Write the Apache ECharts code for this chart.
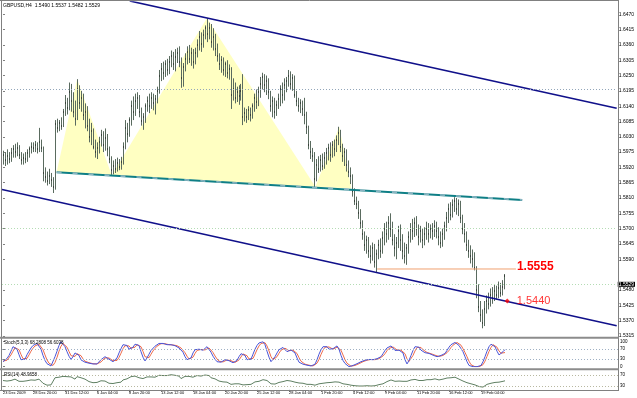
<!DOCTYPE html>
<html><head><meta charset="utf-8">
<script src="https://cdn.jsdelivr.net/npm/echarts@6/dist/echarts.min.js"></script>
<style>html,body{margin:0;padding:0;background:#fff}#c{width:637px;height:398px}</style>
</head><body><div id="c"></div>
<script>
const symbolName = 'GBPUSD,H4';
// [open, high, low, close]
const ohlc = [
[1.5950,1.5980,1.5930,1.5965],[1.5965,1.5975,1.5925,1.5945],[1.5945,1.5985,1.5930,1.5960],[1.5960,1.5975,1.5935,1.5950],[1.5950,1.5990,1.5940,1.5970],
[1.5970,1.6000,1.5955,1.5985],[1.5985,1.6005,1.5955,1.5975],[1.5975,1.6010,1.5960,1.5990],[1.5990,1.6000,1.5950,1.5965],[1.5965,1.5975,1.5930,1.5945],
[1.5945,1.5970,1.5930,1.5955],[1.5955,1.5975,1.5935,1.5950],[1.5950,1.5985,1.5940,1.5970],[1.5970,1.5995,1.5955,1.5985],[1.5985,1.6010,1.5970,1.5995],
[1.5995,1.6010,1.5975,1.5990],[1.5990,1.6015,1.5975,1.6000],[1.6000,1.6010,1.5970,1.5985],[1.5985,1.6062,1.5975,1.6010],[1.6010,1.6020,1.5975,1.5990],
[1.5990,1.5995,1.5870,1.5900],[1.5900,1.5920,1.5865,1.5885],[1.5885,1.5905,1.5855,1.5870],[1.5870,1.5915,1.5860,1.5890],[1.5890,1.5900,1.5850,1.5875],
[1.5875,1.5885,1.5828,1.5850],[1.5850,1.6090,1.5840,1.6075],[1.6075,1.6095,1.6045,1.6060],[1.6060,1.6090,1.6050,1.6080],[1.6080,1.6100,1.6055,1.6070],
[1.6070,1.6130,1.6065,1.6120],[1.6120,1.6180,1.6105,1.6150],[1.6150,1.6170,1.6110,1.6135],[1.6135,1.6225,1.6125,1.6190],[1.6190,1.6220,1.6120,1.6160],
[1.6160,1.6190,1.6100,1.6120],[1.6120,1.6160,1.6070,1.6095],[1.6095,1.6237,1.6090,1.6200],[1.6200,1.6215,1.6130,1.6150],[1.6150,1.6195,1.6120,1.6170],
[1.6170,1.6185,1.6090,1.6110],[1.6110,1.6150,1.6060,1.6120],[1.6120,1.6140,1.6050,1.6070],[1.6070,1.6095,1.6010,1.6030],[1.6030,1.6080,1.6000,1.6050],
[1.6050,1.6060,1.5985,1.5995],[1.5995,1.6020,1.5955,1.5975],[1.5975,1.6010,1.5950,1.5990],[1.5990,1.6030,1.5970,1.6010],[1.6010,1.6055,1.5995,1.6035],
[1.6035,1.6050,1.5975,1.6000],[1.6000,1.6060,1.5980,1.6025],[1.6025,1.6040,1.5960,1.5985],[1.5985,1.5995,1.5935,1.5950],[1.5950,1.5960,1.5893,1.5910],
[1.5910,1.5945,1.5895,1.5925],[1.5925,1.5950,1.5900,1.5915],[1.5915,1.5955,1.5905,1.5935],[1.5935,1.5950,1.5910,1.5920],[1.5920,1.5958,1.5912,1.5940],
[1.5940,1.6010,1.5930,1.5995],[1.5995,1.6090,1.5985,1.6060],[1.6060,1.6080,1.6010,1.6040],[1.6040,1.6100,1.6030,1.6090],[1.6090,1.6160,1.6070,1.6140],
[1.6140,1.6175,1.6090,1.6120],[1.6120,1.6185,1.6105,1.6160],[1.6160,1.6190,1.6130,1.6170],[1.6170,1.6180,1.6100,1.6120],[1.6120,1.6135,1.6070,1.6085],
[1.6085,1.6115,1.6055,1.6100],[1.6100,1.6150,1.6080,1.6140],[1.6140,1.6175,1.6120,1.6160],[1.6160,1.6185,1.6115,1.6140],[1.6140,1.6190,1.6130,1.6170],
[1.6170,1.6185,1.6125,1.6150],[1.6150,1.6180,1.6110,1.6165],[1.6165,1.6210,1.6150,1.6195],[1.6195,1.6270,1.6185,1.6250],[1.6250,1.6295,1.6230,1.6275],
[1.6275,1.6300,1.6235,1.6260],[1.6260,1.6305,1.6245,1.6290],[1.6290,1.6310,1.6250,1.6270],[1.6270,1.6320,1.6255,1.6300],[1.6300,1.6340,1.6280,1.6320],
[1.6320,1.6335,1.6270,1.6290],[1.6290,1.6345,1.6265,1.6315],[1.6315,1.6350,1.6295,1.6330],[1.6330,1.6355,1.6280,1.6300],[1.6300,1.6315,1.6206,1.6240],
[1.6240,1.6295,1.6210,1.6280],[1.6280,1.6330,1.6265,1.6310],[1.6310,1.6355,1.6290,1.6335],[1.6335,1.6360,1.6295,1.6310],[1.6310,1.6350,1.6285,1.6330],
[1.6330,1.6345,1.6275,1.6300],[1.6300,1.6350,1.6290,1.6330],[1.6330,1.6380,1.6315,1.6360],[1.6360,1.6410,1.6340,1.6390],[1.6390,1.6405,1.6335,1.6365],
[1.6365,1.6415,1.6350,1.6395],[1.6395,1.6430,1.6380,1.6420],[1.6420,1.6456,1.6370,1.6400],[1.6400,1.6440,1.6380,1.6420],[1.6420,1.6435,1.6350,1.6370],
[1.6370,1.6420,1.6340,1.6390],[1.6390,1.6400,1.6320,1.6345],[1.6345,1.6365,1.6300,1.6320],[1.6320,1.6330,1.6270,1.6290],[1.6290,1.6320,1.6260,1.6305],
[1.6305,1.6315,1.6250,1.6270],[1.6270,1.6300,1.6245,1.6290],[1.6290,1.6305,1.6240,1.6260],[1.6260,1.6290,1.6235,1.6275],[1.6275,1.6280,1.6130,1.6180],
[1.6180,1.6240,1.6160,1.6200],[1.6200,1.6225,1.6150,1.6170],[1.6170,1.6210,1.6155,1.6190],[1.6190,1.6215,1.6145,1.6175],[1.6175,1.6220,1.6160,1.6195],
[1.6195,1.6255,1.6072,1.6100],[1.6100,1.6135,1.6085,1.6115],[1.6115,1.6130,1.6080,1.6100],[1.6100,1.6140,1.6090,1.6125],[1.6125,1.6135,1.6085,1.6110],
[1.6110,1.6150,1.6095,1.6140],[1.6140,1.6185,1.6120,1.6170],[1.6170,1.6200,1.6130,1.6155],[1.6155,1.6210,1.6140,1.6190],[1.6190,1.6245,1.6170,1.6220],
[1.6220,1.6260,1.6200,1.6245],[1.6245,1.6255,1.6190,1.6215],[1.6215,1.6250,1.6180,1.6230],[1.6230,1.6240,1.6165,1.6190],[1.6190,1.6195,1.6120,1.6140],
[1.6140,1.6175,1.6100,1.6160],[1.6160,1.6170,1.6095,1.6120],[1.6120,1.6160,1.6105,1.6145],[1.6145,1.6185,1.6130,1.6165],[1.6165,1.6215,1.6140,1.6200],
[1.6200,1.6225,1.6150,1.6180],[1.6180,1.6240,1.6160,1.6215],[1.6215,1.6245,1.6190,1.6230],[1.6230,1.6270,1.6210,1.6250],[1.6250,1.6265,1.6200,1.6220],
[1.6220,1.6255,1.6195,1.6240],[1.6240,1.6250,1.6170,1.6180],[1.6180,1.6195,1.6140,1.6160],[1.6160,1.6170,1.6120,1.6140],[1.6140,1.6165,1.6115,1.6150],
[1.6150,1.6160,1.6105,1.6130],[1.6130,1.6170,1.6075,1.6110],[1.6110,1.6120,1.6040,1.6065],[1.6065,1.6070,1.5985,1.6000],[1.6000,1.6015,1.5950,1.5975],
[1.5975,1.5990,1.5940,1.5960],[1.5960,1.5975,1.5850,1.5880],[1.5880,1.5950,1.5870,1.5930],[1.5930,1.5960,1.5900,1.5915],[1.5915,1.5965,1.5905,1.5945],
[1.5945,1.5970,1.5910,1.5925],[1.5925,1.5975,1.5915,1.5955],[1.5955,1.5990,1.5930,1.5970],[1.5970,1.6005,1.5945,1.5990],[1.5990,1.6010,1.5940,1.5965],
[1.5965,1.6015,1.5955,1.6000],[1.6000,1.6020,1.5960,1.5985],[1.5985,1.6035,1.5975,1.6020],[1.6020,1.6066,1.6000,1.6045],[1.6045,1.6055,1.5975,1.5995],
[1.5995,1.6005,1.5940,1.5960],[1.5960,1.5990,1.5925,1.5975],[1.5975,1.5985,1.5905,1.5930],[1.5930,1.5945,1.5885,1.5905],[1.5905,1.5920,1.5860,1.5890],
[1.5890,1.5895,1.5815,1.5835],[1.5835,1.5845,1.5785,1.5800],[1.5800,1.5815,1.5770,1.5790],[1.5790,1.5800,1.5735,1.5755],[1.5755,1.5770,1.5700,1.5720],
[1.5720,1.5730,1.5660,1.5680],[1.5680,1.5690,1.5620,1.5640],[1.5640,1.5675,1.5610,1.5660],[1.5660,1.5670,1.5595,1.5620],[1.5620,1.5640,1.5575,1.5600],
[1.5600,1.5650,1.5585,1.5630],[1.5630,1.5645,1.5560,1.5580],[1.5580,1.5625,1.5542,1.5610],[1.5610,1.5660,1.5590,1.5640],[1.5640,1.5665,1.5595,1.5620],
[1.5620,1.5690,1.5610,1.5665],[1.5665,1.5720,1.5640,1.5700],[1.5700,1.5725,1.5650,1.5680],[1.5680,1.5745,1.5660,1.5720],[1.5720,1.5755,1.5670,1.5700],
[1.5700,1.5725,1.5640,1.5660],[1.5660,1.5680,1.5600,1.5630],[1.5630,1.5670,1.5590,1.5650],[1.5650,1.5710,1.5630,1.5690],[1.5690,1.5715,1.5620,1.5660],
[1.5660,1.5680,1.5590,1.5620],[1.5620,1.5650,1.5575,1.5600],[1.5600,1.5645,1.5570,1.5630],[1.5630,1.5690,1.5610,1.5670],[1.5670,1.5720,1.5650,1.5700],
[1.5700,1.5735,1.5660,1.5690],[1.5690,1.5740,1.5670,1.5720],[1.5720,1.5745,1.5675,1.5700],[1.5700,1.5715,1.5640,1.5670],[1.5670,1.5710,1.5650,1.5690],
[1.5690,1.5700,1.5630,1.5660],[1.5660,1.5705,1.5640,1.5680],[1.5680,1.5725,1.5660,1.5700],[1.5700,1.5720,1.5650,1.5680],[1.5680,1.5715,1.5665,1.5700],
[1.5700,1.5720,1.5660,1.5690],[1.5690,1.5730,1.5670,1.5710],[1.5710,1.5725,1.5665,1.5690],[1.5690,1.5705,1.5640,1.5670],[1.5670,1.5690,1.5630,1.5650],
[1.5650,1.5700,1.5635,1.5680],[1.5680,1.5725,1.5660,1.5710],[1.5710,1.5760,1.5690,1.5740],[1.5740,1.5790,1.5720,1.5770],[1.5770,1.5795,1.5730,1.5750],
[1.5750,1.5805,1.5740,1.5785],[1.5785,1.5813,1.5760,1.5800],[1.5800,1.5810,1.5750,1.5770],[1.5770,1.5805,1.5745,1.5790],[1.5790,1.5800,1.5720,1.5740],
[1.5740,1.5750,1.5680,1.5700],[1.5700,1.5720,1.5650,1.5680],[1.5680,1.5690,1.5620,1.5640],[1.5640,1.5660,1.5595,1.5620],[1.5620,1.5640,1.5575,1.5600],
[1.5600,1.5625,1.5560,1.5590],[1.5590,1.5615,1.5550,1.5560],[1.5560,1.5565,1.5450,1.5480],[1.5480,1.5500,1.5400,1.5420],[1.5420,1.5440,1.5365,1.5390],
[1.5390,1.5410,1.5342,1.5360],[1.5360,1.5440,1.5350,1.5410],[1.5410,1.5460,1.5395,1.5440],[1.5440,1.5470,1.5410,1.5430],[1.5430,1.5485,1.5420,1.5460],
[1.5460,1.5490,1.5430,1.5450],[1.5450,1.5500,1.5440,1.5475],[1.5475,1.5495,1.5445,1.5460],[1.5460,1.5510,1.5450,1.5485],[1.5485,1.5505,1.5455,1.5470],
[1.5470,1.5515,1.5460,1.5490],[1.5490,1.5537,1.5482,1.5529]
];
const stochK = [
20,25,33,45,62,80,87,70,48,28, 20,30,48,62,75,85,90,93,88,70, 45,25,12,5,3,8,40,62,85,100,
95,80,60,42,29,40,55,60,45,27, 22,18,16,14,12,11,11,11,18,28, 36,40,38,30,22,20,20,35,55,72,
88,93,85,70,67,78,90,96,85,60, 38,23,35,50,65,73,82,90,93,94, 93,90,88,87,88,87,84,80,75,70,
58,40,28,24,35,55,68,73,70,64, 66,72,80,72,58,42,30,20,16,18, 24,28,29,24,18,16,16,25,40,52,
60,45,28,20,30,50,70,85,95,100, 100,88,62,38,20,25,40,55,68,75, 77,70,60,62,67,69,55,35,18,13,
10,8,6,4,3,3,10,28,50,68, 80,87,80,70,67,72,78,83,70,45, 25,13,5,0,2,5,8,12,16,20,
24,26,28,29,29,28,27,32,36,40, 52,65,75,80,83,75,65,60,66,73, 55,28,11,25,45,65,80,87,78,66,
60,56,54,53,50,46,42,40,40,45, 50,53,65,78,88,93,97,100,85,72, 60,40,20,5,0,0,0,0,0,5,
20,40,62,80,90,93,80,62,47,52, 60,68.2808
];
const stochD = [
22,23,26,34,47,62,76,79,68,49, 32,26,33,47,62,74,83,89,90,84, 68,47,27,14,7,5,17,37,62,82,
93,92,78,61,44,37,41,52,53,44, 31,22,19,16,14,12,11,11,13,19, 27,35,38,35,30,24,21,25,37,54,
72,84,89,83,74,72,78,88,90,80, 61,40,32,36,50,63,73,82,88,92, 93,92,90,88,88,87,86,84,80,75,
68,56,42,31,29,38,53,65,70,69, 67,67,73,75,70,57,43,31,22,18, 19,23,27,27,24,19,17,19,27,39,
51,52,44,31,26,33,50,68,83,93, 98,96,83,63,40,28,28,40,54,66, 73,74,69,64,63,66,64,53,36,22,
14,10,8,6,4,3,5,14,29,49, 66,78,82,79,72,70,72,78,77,66, 47,28,14,6,2,2,5,8,12,16,
20,23,26,28,29,29,28,29,32,36, 43,52,64,73,79,79,74,67,64,66, 65,52,31,21,27,45,63,77,82,77,
68,61,57,54,52,50,46,43,41,42, 45,49,56,65,77,86,93,97,94,86, 72,57,40,22,8,2,0,0,0,2,
8,22,41,61,77,88,88,78,63,54, 53,56.6038
];
const rsi = [
50,52,48,47,50,53,55,50,47,45, 47,50,49,50,52,53,51,50,55,49, 40,35,33,37,34,30,60,58,62,64,
65,67,64,66,63,58,55,64,58,60, 54,55,50,46,48,42,40,43,46,49, 45,48,44,40,36,39,38,42,40,44,
52,58,56,61,64,62,66,67,60,55, 57,61,63,60,63,61,62,65,69,70, 68,71,68,70,71,67,69,70,66,57,
62,65,68,65,66,62,65,68,70,66, 68,70,67,68,60,62,56,52,48,50, 45,48,44,47,36,40,38,40,38,41,
34,36,35,38,36,41,45,43,47,51, 53,48,50,44,38,41,37,40,43,47, 46,48,50,52,48,50,44,42,41,42,
40,38,36,35,36,34,33,36,38,37, 40,39,42,44,43,46,45,47,44,40, 38,37,36,34,33,32,31,30,30,31,
30,29,31,30,30,32,31,33,35,34, 38,42,46,48,52,50,47,45,48,50, 47,45,47,50,52,51,54,52,50,52,
50,51,53,54,53,55,56,54,52,53, 55,57,59,61,60,62,62,60,55,52, 48,45,42,40,38,36,34,30,28,27,
26,30,36,38,40,42,43,45,44,46, 47,48.9658
];
const timeTickIndex = [0,15,31,47,63,79,95,111,127,143,159,175,191,207,223,239];
const timeTickLabels = ['23 Dec 2009','28 Dec 20:00','31 Dec 12:00','6 Jan 04:00','8 Jan 20:00','13 Jan 12:00','18 Jan 04:00','20 Jan 20:00','25 Jan 12:00','28 Jan 04:00','1 Feb 20:00','4 Feb 12:00','9 Feb 04:00','11 Feb 20:00','16 Feb 12:00','19 Feb 04:00'];
const priceTicks = [1.5315,1.5370,1.5425,1.5480,1.5590,1.5645,1.5700,1.5755,1.5810,1.5865,1.5920,1.5975,1.6030,1.6085,1.6140,1.6195,1.6250,1.6305,1.6360,1.6415,1.6470];
const stochTicks = [0,30,70,100];
const rsiTicks = [30,70];
const upperChannel = [[63.5,1.65178],[307.5,1.61323]];
const lowerChannel = [[-0.5,1.58406],[307.5,1.53513]];
const neckline = [[26.85,1.59024],[260.15,1.58033]];
const triangles = [
  [26.85,1.59024, 37.15,1.62365, 54.5,1.58916],
  [54.5,1.58916, 102.15,1.64556, 156.5,1.58506],
  [156.5,1.58506, 168.5,1.60662, 174.5,1.58441]
];
const targetLine = [[187.5,1.5555],[257,1.5555]];
const channelPoint = [[252.65,1.5440]];
const dottedLevels = [1.6237, 1.5745, 1.5345];

const slotMax = 307.5;
const FONT = 'Liberation Sans, Arial, sans-serif';
const last = ohlc[ohlc.length - 1];
const lastK = stochK[stochK.length - 1], lastD = stochD[stochD.length - 1], lastR = rsi[rsi.length - 1];
const levelColors = ['#93a6ba', '#b4dcb4', '#a8dcdc'];

const chart = echarts.init(document.getElementById('c'), null, {renderer: 'canvas'});
const hiddenX = (gi) => ({type: 'value', gridIndex: gi, min: -0.5, max: slotMax, show: false});

const option = {
  animation: false,
  backgroundColor: '#ffffff',
  textStyle: {fontFamily: FONT},
  title: [
    {text: symbolName + '  ' + last.map(v => v.toFixed(4)).join(' '), left: 3, top: 3, padding: 0,
     textStyle: {fontSize: 5, fontWeight: 'normal', color: '#000', fontFamily: FONT, lineHeight: 6}},
    {text: 'Stoch(5,3,3) ' + lastK.toFixed(4) + ' ' + lastD.toFixed(4), left: 4, top: 340, padding: 0,
     textStyle: {fontSize: 4.5, fontWeight: 'normal', color: '#000', fontFamily: FONT, lineHeight: 5}},
    {text: 'RSI(14) ' + lastR.toFixed(4), left: 4, top: 372.5, padding: 0,
     textStyle: {fontSize: 4.5, fontWeight: 'normal', color: '#000', fontFamily: FONT, lineHeight: 5}}
  ],
  grid: [
    {left: 2, right: 19, top: 2, bottom: 61},
    {left: 2, right: 19, top: 341.7, bottom: 31.3},
    {left: 2, right: 19, top: 371.15, bottom: 8.15}
  ],
  xAxis: [
    hiddenX(0), hiddenX(1),
    {type: 'value', gridIndex: 2, min: -0.5, max: slotMax,
     axisLine: {show: false}, splitLine: {show: false},
     axisTick: {show: true, customValues: timeTickIndex, length: 2, lineStyle: {color: '#808080'}},
     axisLabel: {customValues: timeTickIndex, formatter: v => timeTickLabels[timeTickIndex.indexOf(v)] || '',
       align: 'left', margin: 1.5, fontSize: 4, color: '#000', fontFamily: FONT}}
  ],
  yAxis: [
    {type: 'value', gridIndex: 0, position: 'right', min: 1.53107, max: 1.65142, scale: true,
     axisLine: {show: false}, splitLine: {show: false},
     axisTick: {show: true, customValues: priceTicks, length: 2, lineStyle: {color: '#808080'}},
     axisLabel: {customValues: priceTicks, formatter: v => v.toFixed(4), margin: 2, fontSize: 5, color: '#000', fontFamily: FONT}},
    {type: 'value', gridIndex: 1, position: 'right', min: 0, max: 100,
     axisLine: {show: false}, splitLine: {show: false},
     axisTick: {show: true, customValues: stochTicks, length: 2, lineStyle: {color: '#808080'}},
     axisLabel: {customValues: stochTicks, margin: 2, fontSize: 4.5, color: '#000', fontFamily: FONT}},
    {type: 'value', gridIndex: 2, position: 'right', min: 16, max: 84,
     axisLine: {show: false}, splitLine: {show: false},
     axisTick: {show: true, customValues: rsiTicks, length: 2, lineStyle: {color: '#808080'}},
     axisLabel: {customValues: rsiTicks, margin: 2, fontSize: 4.5, color: '#000', fontFamily: FONT}}
  ],
  graphic: [
    {type: 'line', shape: {x1: 1.5, y1: 0, x2: 1.5, y2: 390}, style: {stroke: '#808080', lineWidth: 1}, z: 50},
    {type: 'line', shape: {x1: 0, y1: 0.5, x2: 619, y2: 0.5}, style: {stroke: '#808080', lineWidth: 1}, z: 50},
    {type: 'line', shape: {x1: 618.5, y1: 0, x2: 618.5, y2: 390}, style: {stroke: '#808080', lineWidth: 1}, z: 50},
    {type: 'line', shape: {x1: 0, y1: 337.7, x2: 619, y2: 337.7}, style: {stroke: '#8c8c8c', lineWidth: 2}, z: 50},
    {type: 'line', shape: {x1: 0, y1: 369.3, x2: 619, y2: 369.3}, style: {stroke: '#8c8c8c', lineWidth: 2}, z: 50},
    {type: 'line', shape: {x1: 0, y1: 390.5, x2: 619, y2: 390.5}, style: {stroke: '#808080', lineWidth: 1}, z: 50}
  ],
  series: [
    {type: 'custom', name: 'patterns', xAxisIndex: 0, yAxisIndex: 0, silent: true, z: 1,
     data: triangles, encode: {x: [0, 2, 4], y: [1, 3, 5]},
     renderItem: (params, api) => {
       const pts = [0, 1, 2].map(k => api.coord([api.value(2 * k), api.value(2 * k + 1)]));
       return {type: 'polygon', shape: {points: pts}, style: {fill: '#ffffc2'}};
     }},
    {type: 'line', name: 'levels', xAxisIndex: 0, yAxisIndex: 0, data: [], silent: true, z: 2,
     markLine: {symbol: 'none', silent: true, animation: false,
       data: dottedLevels.map((p, k) => ({yAxis: p, lineStyle: {color: levelColors[k], type: [1, 2], width: 1}, label: {show: false}}))
         .concat([{yAxis: last[3], lineStyle: {color: '#b4dcb4', type: [1, 2], width: 1},
           label: {show: true, position: 'end', distance: 1, formatter: () => last[3].toFixed(4),
             backgroundColor: '#000', color: '#fff', fontSize: 5, padding: [0, 1], fontFamily: FONT}}])}},
    {type: 'custom', name: 'bars', xAxisIndex: 0, yAxisIndex: 0, silent: true, z: 3,
     data: ohlc.map((d, i) => [i, d[0], d[1], d[2], d[3]]), encode: {x: 0, y: [1, 2, 3, 4]},
     renderItem: (params, api) => {
       const i = api.value(0);
       const pH = api.coord([i, api.value(2)]), pL = api.coord([i, api.value(3)]), pC = api.coord([i, api.value(4)]);
       const x = Math.round(pH[0]) + 0.5;
       return {type: 'group', children: [
         {type: 'line', shape: {x1: x, y1: pH[1], x2: x, y2: pL[1]}, style: {stroke: '#5a6b5f', lineWidth: 1}},
         {type: 'rect', shape: {x: x - 0.5, y: Math.round(pC[1]) - 0.5, width: 1, height: 1}, style: {fill: '#1a1a1a'}}
       ]};
     }},
    {type: 'line', name: 'neckline', xAxisIndex: 0, yAxisIndex: 0, data: neckline, showSymbol: false, silent: true, z: 4,
     lineStyle: {color: '#0f7f86', width: 2}},
    {type: 'line', name: 'neckline-marks', xAxisIndex: 0, yAxisIndex: 0, data: neckline, showSymbol: false, silent: true, z: 4,
     lineStyle: {color: '#b4c6d6', width: 1.6, type: [5, 11], opacity: 0.75}},
    {type: 'line', name: 'upper', xAxisIndex: 0, yAxisIndex: 0, data: upperChannel, showSymbol: false, silent: true, z: 4,
     lineStyle: {color: '#10108a', width: 1.6}},
    {type: 'line', name: 'lower', xAxisIndex: 0, yAxisIndex: 0, data: lowerChannel, showSymbol: false, silent: true, z: 4,
     lineStyle: {color: '#10108a', width: 1.6}},
    {type: 'line', name: 'target', xAxisIndex: 0, yAxisIndex: 0, data: targetLine, showSymbol: false, silent: true, z: 4,
     lineStyle: {color: '#f0a070', width: 1},
     endLabel: {show: true, formatter: p => p.value[1].toFixed(4), color: '#ff0000', fontWeight: 'bold', fontSize: 12,
       fontFamily: FONT, distance: 1, offset: [0, -2]}},
    {type: 'scatter', name: 'touch', xAxisIndex: 0, yAxisIndex: 0, data: channelPoint, symbol: 'diamond', symbolSize: 5,
     itemStyle: {color: '#ff0000'}, silent: true, z: 5,
     label: {show: true, position: 'right', distance: 7, formatter: p => p.value[1].toFixed(4), color: '#ff0000', fontSize: 11, fontFamily: FONT}},
    {type: 'line', name: 'K', xAxisIndex: 1, yAxisIndex: 1, data: stochK.map((v, i) => [i, v]), showSymbol: false, silent: true, z: 4,
     lineStyle: {color: '#4a55d8', width: 1},
     markLine: {symbol: 'none', silent: true, label: {show: false},
       data: [{yAxis: 30}, {yAxis: 70}], lineStyle: {color: '#9fb0c4', type: [1, 2], width: 1}}},
    {type: 'line', name: 'D', xAxisIndex: 1, yAxisIndex: 1, data: stochD.map((v, i) => [i, v]), showSymbol: false, silent: true, z: 3,
     lineStyle: {color: '#ee6a4a', width: 1}},
    {type: 'line', name: 'RSI', xAxisIndex: 2, yAxisIndex: 2, data: rsi.map((v, i) => [i, v]), showSymbol: false, silent: true, z: 3,
     lineStyle: {color: '#5f7f62', width: 1},
     markLine: {symbol: 'none', silent: true, label: {show: false},
       data: [{yAxis: 30}, {yAxis: 70}], lineStyle: {color: '#b8b8a0', type: [1, 2], width: 1}}}
  ]
};
chart.setOption(option);
</script>
</body></html>
